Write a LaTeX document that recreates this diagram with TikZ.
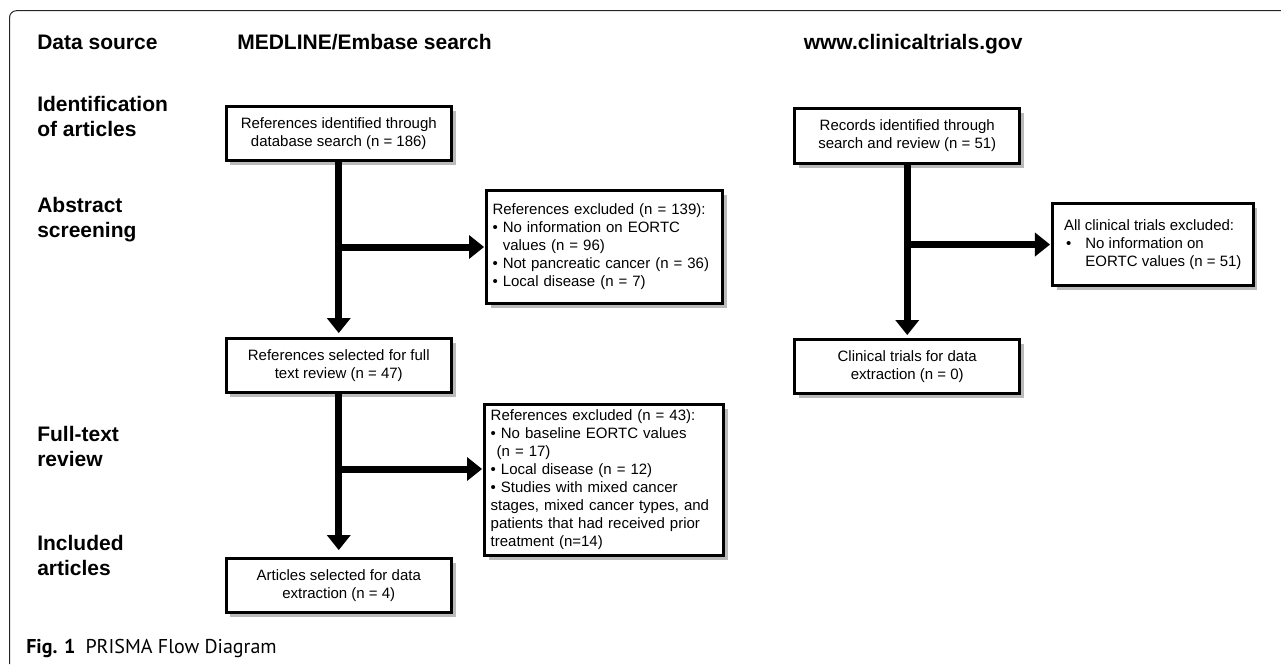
\documentclass[tikz,border=0pt]{standalone}
\usepackage{fontspec}
\setmainfont{Liberation Sans}
\newfontfamily\capfont{PT Sans}
\usetikzlibrary{arrows.meta,shadows,calc}
\begin{document}
\begin{tikzpicture}[x=0.75pt,y=-0.75pt,
 box/.style={draw=black, line width=2.25pt, fill=white, inner sep=0pt,
   font=\fontsize{11.25}{13.5}\selectfont,
   drop shadow={shadow xshift=3.2pt, shadow yshift=-3.2pt, fill=black!60, opacity=0.45}},
 cbox/.style={box, align=center, minimum width=169.1pt, minimum height=40.5pt},
 lbox/.style={box, align=left},
 head/.style={font=\fontsize{15.75}{18.75}\selectfont\bfseries, inner sep=0pt, anchor=base west},
 rowlab/.style={head, align=left},
 flow/.style={line width=5.25pt, -{Triangle[length=11.25pt,width=18pt,line width=0pt]}},
 frame/.style={line width=0.75pt, draw=black!85, rounded corners=5.25pt},
]
\useasboundingbox (0,0) rectangle (1281,664);
\draw[frame] (9.5,664) -- (9.5,10.7) -- (1281,10.7);

% headings
\node[head] (hsrc) at (37,49.5) {Data source};
\node[head] (hmed) at (237,49.5) {MEDLINE/Embase search};
\node[head] (hct) at (803.5,49.5) {www.clinicaltrials.gov};

% row labels
\node[rowlab] (rid) at (37,136) {Identification\\of articles};
\node[rowlab] (rab) at (37,237.3) {Abstract\\screening};
\node[rowlab] (rft) at (37,466) {Full-text\\review};
\node[rowlab] (rin) at (37,575) {Included\\articles};

% left column
\node[cbox] (b1) at (338.75,133.5) {References identified through\\database search (n = 186)};
\node[cbox] (b2) at (338.75,365.5) {References selected for full\\text review (n = 47)};
\node[cbox] (b3) at (338.75,585.5) {Articles selected for data\\extraction (n = 4)};
\node[lbox, minimum width=177pt, minimum height=84.75pt, text width=168pt, inner xsep=4.5pt] (ex1) at (604.5,247)
 {References excluded (n = 139):\\
  • No information on EORTC\\
  \hphantom{•\ }values (n = 96)\\
  • Not pancreatic cancer (n = 36)\\
  • Local disease (n = 7)};
\node[lbox, minimum width=179.25pt, minimum height=113.25pt, text width=170pt, inner xsep=4.6pt] (ex2) at (604,480)
 {References excluded (n = 43):\\
  • No baseline EORTC values\\
  \hspace{4.5pt}(n = 17)\\
  • Local disease (n = 12)\\
  • Studies with mixed cancer\\
  stages, mixed cancer types, and\\
  patients that had received prior\\
  treatment (n=14)};

% right column
\node[cbox, minimum height=41.25pt] (c1) at (907.25,136) {Records identified through\\search and review (n = 51)};
\node[cbox] (c2) at (907.25,366.5) {Clinical trials for data\\extraction (n = 0)};
\node[lbox, minimum width=150.4pt, minimum height=61.5pt] (cex) at (1152.75,244.5)
 {All clinical trials excluded:\\
  \makebox[16pt][l]{\hspace{1.5pt}•}No information on\\
  \hspace{16pt}EORTC values (n = 51)};

% connectors
\coordinate (j1) at (b1.south |- ex1.west);
\coordinate (j2) at (b2.south |- 0,469);
\coordinate (j3) at (c1.south |- cex.west);
\draw[flow, shorten >=3pt] (b1) -- (b2);
\draw[flow, shorten >=5.25pt] (b2) -- (b3);
\draw[flow, shorten >=0.75pt] (j1) -- (ex1);
\draw[flow, shorten >=0.75pt] (j2) -- (j2 -| ex2.west);
\draw[flow, shorten >=2.25pt] (c1) -- (c2);
\draw[flow, shorten >=0.75pt] (j3) -- (cex);

% caption
\node[anchor=base west, inner sep=0pt, font=\capfont\fontsize{15}{18}\selectfont] (cap) at (26,653.3)
 {\textbf{Fig. 1}\hspace{7.5pt}PRISMA Flow Diagram};
\end{tikzpicture}
\end{document}
